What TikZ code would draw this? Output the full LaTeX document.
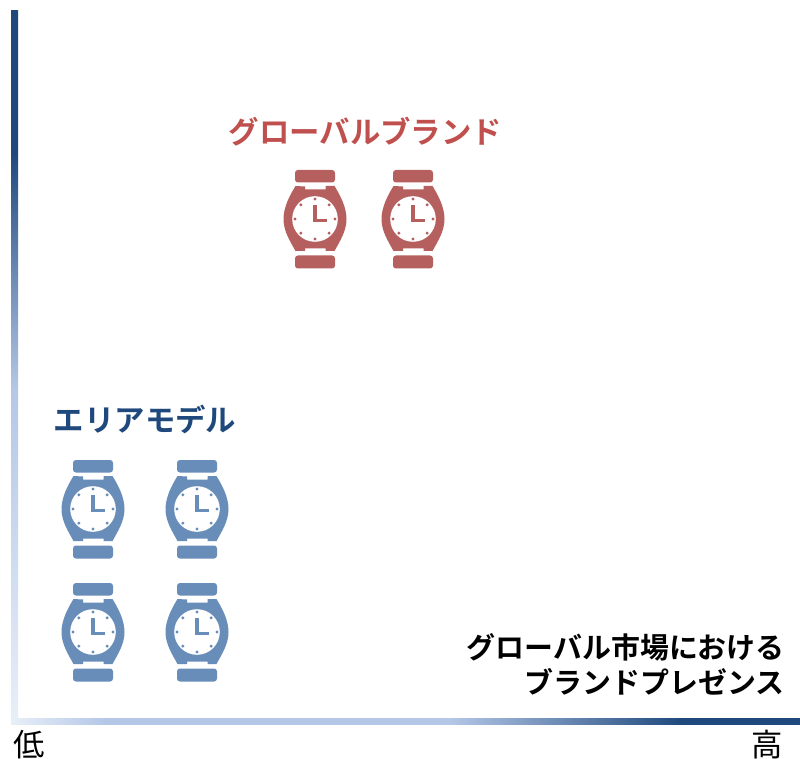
\documentclass[tikz,border=0pt]{standalone}
\usepackage{fontspec}
\newfontfamily\jpm{Noto Sans CJK JP Bold}
\newfontfamily\jpr{Noto Sans CJK JP}
\definecolor{wred}{HTML}{B5605F}
\definecolor{wblue}{HTML}{688DB9}
\definecolor{tred}{HTML}{C0504D}
\definecolor{tblue}{HTML}{1F497D}
\definecolor{barlight}{HTML}{E8EFF8}
\definecolor{barmid}{HTML}{B4C7E7}
\pgfdeclareverticalshading{leftbar}{100bp}{color(0bp)=(barlight); color(25bp)=(barlight); color(48.5bp)=(barmid); color(65bp)=(tblue); color(100bp)=(tblue)}
\pgfdeclarehorizontalshading{bottombar}{100bp}{color(0bp)=(barlight); color(25bp)=(barlight); color(31bp)=(barmid); color(52.8bp)=(barmid); color(67.5bp)=(tblue); color(100bp)=(tblue)}
\tikzset{
  x=0.75pt,y=-0.75pt,
  pics/watch/.style={code={
    \fill[#1,rounded corners=2.2] (-20,-49) rectangle (20,-36.5);
    \fill[#1,rounded corners=2.2] (-20,36.5) rectangle (20,49.5);
    \fill[#1] (-19.5,-33) -- (-10,-32.5) -- (-10,-29.5) -- (10.5,-29.5) -- (10.5,-33) -- (19.5,-33)
      .. controls (25,-24) and (31.5,-12) .. (31.5,0)
      .. controls (31.5,12) and (25,22) .. (19.5,32) -- (10.5,32) -- (10.5,29.5) -- (-10,29.5) -- (-10,32) -- (-19.5,32)
      .. controls (-25,22) and (-31.5,12) .. (-31.5,0)
      .. controls (-31.5,-12) and (-25,-24) .. (-19.5,-33) -- cycle;
    \fill[white] (0,0) circle (22.8);
    \foreach \a in {0,45,...,315}{\fill[#1] (\a:20) circle (1.7);}
    \draw[#1,line width=2.6pt,line join=miter] (0,-14) -- (0,1.5) -- (12,1.5);
  }},
  titlelabel/.style={font=\jpm\fontsize{22.8pt}{27pt}\selectfont,inner sep=0pt},
  axislabel/.style={font=\jpm\fontsize{21.7pt}{26.3pt}\selectfont,inner sep=0pt,align=right},
  endlabel/.style={font=\jpr\fontsize{23.5pt}{25pt}\selectfont,inner sep=0pt},
}
\begin{document}
\begin{tikzpicture}
\useasboundingbox[fill=white] (0,0) rectangle (800,759);
\shade[shading=leftbar] (11,11) rectangle (18,724);
\shade[shading=bottombar] (11,718) rectangle (800,724);
\node[titlelabel,text=tred] (global) at (365.5,132) {グローバルブランド};
\node[titlelabel,text=tblue] (area) at (145,419.5) {エリアモデル};
\pic at (315,219) {watch=wred};
\pic at (413,219) {watch=wred};
\pic at (93,509) {watch=wblue};
\pic at (197,509) {watch=wblue};
\pic at (93,632) {watch=wblue};
\pic at (197,632) {watch=wblue};
\node[axislabel,anchor=east] (presence) at (785,664.5) {グローバル市場における\\ブランドプレゼンス};
\node[endlabel] (low) at (29,745) {低};
\node[endlabel] (high) at (767,745) {高};
\end{tikzpicture}
\end{document}
